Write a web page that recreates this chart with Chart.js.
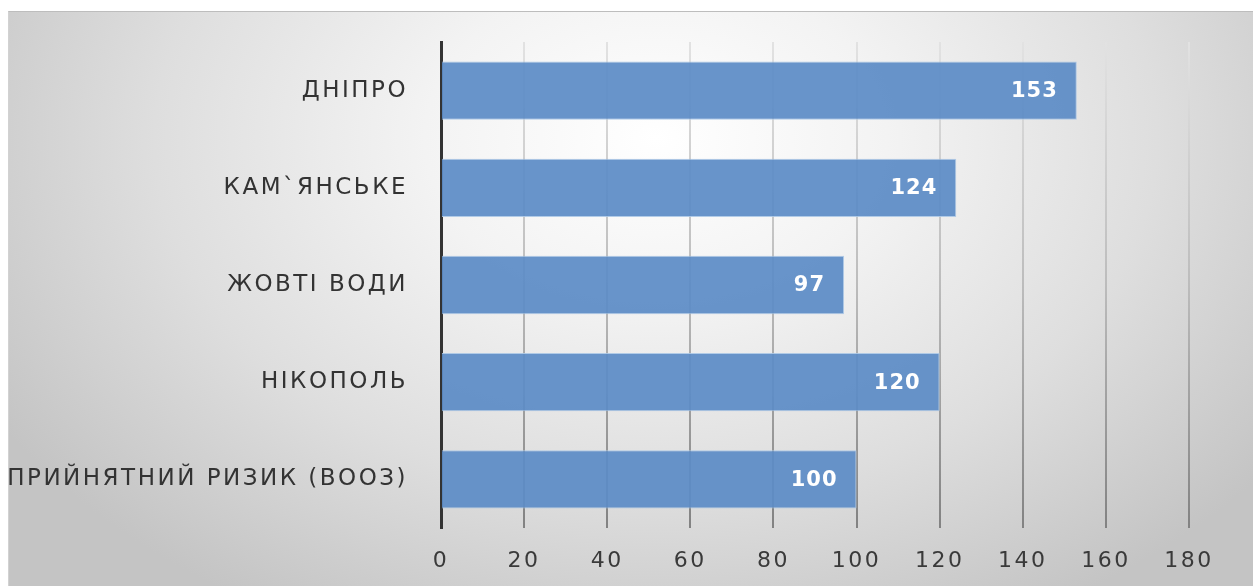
<!DOCTYPE html>
<html>
<head>
<meta charset="utf-8">
<script src="https://cdn.jsdelivr.net/npm/chart.js@4/dist/chart.umd.min.js"></script>
<style>
  html, body { margin: 0; padding: 0; background: #ffffff; }
  body { width: 1259px; height: 586px; position: relative; overflow: hidden; }
  #card {
    position: absolute; left: 8px; top: 11px; width: 1245px; height: 575px;
    box-sizing: border-box;
    border-top: 1px solid #bdbdbd; border-left: 1px solid #d2d2d2;
    background: radial-gradient(ellipse 62% 95% at 52% 22%, #ffffff 0%, #f3f3f3 30%, #dedede 65%, #c4c4c4 100%);
  }
  #wrap { position: absolute; left: 0; top: 0; width: 1259px; height: 586px; }
</style>
</head>
<body>
<div id="card"></div>
<div id="wrap"><canvas id="chart" width="1259" height="586"></canvas></div>
<script>
// Categories (top to bottom) and their values
const categories = ['ДНІПРО', 'КАМ`ЯНСЬКЕ', 'ЖОВТІ ВОДИ', 'НІКОПОЛЬ', 'ПРИЙНЯТНИЙ РИЗИК (ВООЗ)'];
const values = [153, 124, 97, 120, 100];
// Value axis tick positions
const axisTicks = [0, 20, 40, 60, 80, 100, 120, 140, 160, 180];

const TEXT_SPACING = '2.5px';

// Slightly wide-set axis lettering
const spacingPlugin = {
  id: 'spacing',
  beforeLayout(chart) { chart.ctx.letterSpacing = TEXT_SPACING; },
  beforeDraw(chart) { chart.ctx.letterSpacing = TEXT_SPACING; }
};

// Value labels placed inside the end of each bar
const valueLabels = {
  id: 'valueLabels',
  afterDatasetsDraw(chart) {
    const ctx = chart.ctx;
    const meta = chart.getDatasetMeta(0);
    ctx.save();
    ctx.letterSpacing = '1px';
    ctx.font = 'bold 21px "DejaVu Sans"';
    ctx.fillStyle = '#ffffff';
    ctx.textAlign = 'right';
    ctx.textBaseline = 'middle';
    meta.data.forEach((bar, i) => {
      ctx.fillText(String(chart.data.datasets[0].data[i]), bar.x - 19, bar.y + 1);
    });
    ctx.restore();
  }
};

function gridGradient(context) {
  const chart = context.chart;
  const area = chart.chartArea;
  if (!area) return '#b0b0b0';
  const g = chart.ctx.createLinearGradient(0, area.top, 0, area.bottom);
  g.addColorStop(0, '#e2e2e2');
  g.addColorStop(0.5, '#bcbcbc');
  g.addColorStop(1, '#828282');
  return g;
}

new Chart(document.getElementById('chart'), {
  type: 'bar',
  data: {
    labels: categories,
    datasets: [{
      data: values,
      backgroundColor: 'rgba(92,140,198,0.93)',
      borderColor: 'rgba(170,198,230,0.9)',
      borderWidth: 1,
      categoryPercentage: 1,
      barPercentage: 0.6
    }]
  },
  options: {
    indexAxis: 'y',
    responsive: false,
    animation: false,
    devicePixelRatio: 1,
    layout: { padding: { left: 0, right: 70, top: 42, bottom: 0 } },
    plugins: { legend: { display: false }, tooltip: { enabled: false } },
    scales: {
      x: {
        min: 0, max: 180,
        afterBuildTicks(scale) { scale.ticks = axisTicks.map(v => ({ value: v })); },
        afterFit(scale) { scale.height = 58; },
        grid: { display: true, drawTicks: false, color: gridGradient, lineWidth: 2 },
        border: { display: false },
        ticks: {
          padding: 20,
          color: '#3a3a3a',
          font: { family: '"DejaVu Sans"', size: 22 },
          maxRotation: 0, autoSkip: false
        }
      },
      y: {
        afterFit(scale) { scale.width = 441; },
        grid: { display: false },
        border: { display: true, color: '#333333', width: 3 },
        ticks: {
          padding: 25,
          color: '#333333',
          font: { family: '"DejaVu Sans"', size: 23 },
          autoSkip: false
        }
      }
    }
  },
  plugins: [spacingPlugin, valueLabels]
});
</script>
</body>
</html>
